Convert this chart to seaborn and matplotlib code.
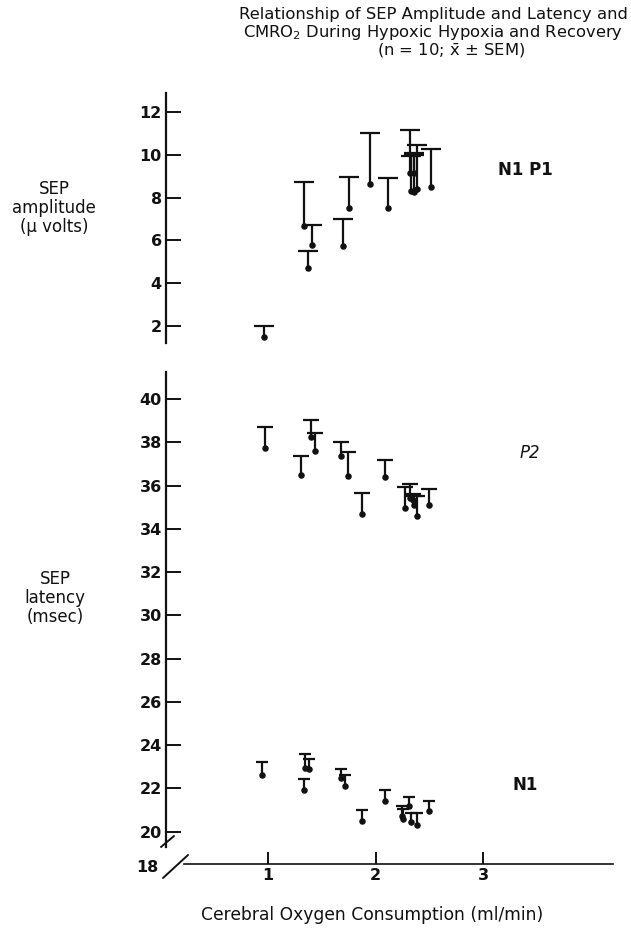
import numpy as np
import pandas as pd
import seaborn as sns
import matplotlib.pyplot as plt

# amplitude N1-P1 (top panel)
amp_x = [0.96, 1.33, 1.37, 1.41, 1.70, 1.75, 1.95, 2.12, 2.32, 2.36, 2.33, 2.36, 2.39, 2.52]
amp_mean = [1.49, 6.67, 4.70, 5.76, 5.74, 7.50, 8.63, 7.49, 9.15, 9.15, 8.32, 8.25, 8.40, 8.49]
amp_upper = [2.00, 8.75, 5.48, 6.74, 6.98, 8.97, 11.04, 8.94, 11.15, 10.00, 9.95, 10.10, 10.46, 10.27]

# latency P2
p2_x = [0.97, 1.31, 1.40, 1.44, 1.68, 1.74, 1.87, 2.09, 2.27, 2.32, 2.35, 2.36, 2.39, 2.50]
p2_mean = [37.72, 36.48, 38.26, 37.60, 37.37, 36.46, 34.69, 36.41, 34.95, 35.41, 35.35, 35.10, 34.60, 35.12]
p2_upper = [38.69, 37.37, 39.03, 38.42, 38.03, 37.57, 35.64, 37.18, 35.95, 36.07, 35.60, 35.52, 35.52, 35.84]

# latency N1
n1_x = [0.94, 1.33, 1.34, 1.38, 1.68, 1.72, 1.87, 2.09, 2.25, 2.26, 2.31, 2.33, 2.39, 2.50]
n1_mean = [22.63, 21.94, 22.94, 22.90, 22.48, 22.12, 20.51, 21.40, 20.71, 20.59, 21.20, 20.43, 20.32, 20.97]
n1_upper = [23.20, 22.45, 23.60, 23.36, 22.91, 22.63, 20.98, 21.91, 21.17, 21.05, 21.60, 20.86, 20.86, 21.40]

amp_ticks = [2, 4, 6, 8, 10, 12]
lat_ticks = [20, 22, 24, 26, 28, 30, 32, 34, 36, 38, 40]
x_ticks = [1, 2, 3]

sns.set_style("ticks")
plt.rcParams['font.family'] = ['DejaVu Sans']
ink = '#111111'

fig = plt.figure(figsize=(6.31, 9.33), dpi=100)
W, H = 631, 933
ax1 = fig.add_axes([166 / W, (H - 343) / H, 447 / W, 250 / H])
ax2 = fig.add_axes([166 / W, (H - 864) / H, 447 / W, 492 / H])


def draw_series(ax, xs, means, uppers, capw):
    df = pd.DataFrame({'x': xs, 'mean': means, 'upper': uppers})
    ax.vlines(df['x'], df['mean'], df['upper'], color=ink, lw=1.6)
    ax.scatter(df['x'], df['upper'], marker='_', s=capw ** 2, color=ink, linewidths=1.6)
    sns.scatterplot(data=df, x='x', y='mean', ax=ax, color=ink, s=22,
                    edgecolor=ink, linewidth=0, legend=False)


draw_series(ax1, amp_x, amp_mean, amp_upper, 14)
draw_series(ax2, p2_x, p2_mean, p2_upper, 12)
draw_series(ax2, n1_x, n1_mean, n1_upper, 8.5)

for ax in (ax1, ax2):
    ax.set_xlim(0.05, 4.21)
    ax.set_xlabel('')
    ax.set_ylabel('')
    ax.spines['top'].set_visible(False)
    ax.spines['right'].set_visible(False)
    ax.spines['left'].set_linewidth(1.6)
    ax.spines['left'].set_color(ink)
    ax.tick_params(axis='y', direction='in', length=11, width=1.4, pad=3,
                   labelsize=11.5, colors=ink)

ax1.set_ylim(1.19, 12.9)
ax1.set_yticks(amp_ticks)
ax1.set_yticklabels([str(t) for t in amp_ticks], fontweight='bold')
ax1.spines['bottom'].set_visible(False)
ax1.set_xticks([])

ax2.set_ylim(18.5, 41.25)
ax2.set_yticks(lat_ticks)
ax2.set_yticklabels([str(t) for t in lat_ticks], fontweight='bold')
ax2.spines['left'].set_bounds(19.3, 41.25)
ax2.spines['bottom'].set_bounds(0.22, 4.21)
ax2.spines['bottom'].set_linewidth(1.2)
ax2.spines['bottom'].set_color(ink)
ax2.set_xticks(x_ticks)
ax2.set_xticklabels([str(t) for t in x_ticks], fontweight='bold')
ax2.tick_params(axis='x', direction='in', length=9, width=1.4, pad=3,
                labelsize=11.5, colors=ink)
ax2.text(-0.02, 18.35, '18', ha='right', va='center', fontsize=11.5,
         fontweight='bold', color=ink, clip_on=False)

# axis break marks
for (xa, ya, xb, yb) in [(161, 847, 174, 836), (163, 878, 188, 855)]:
    fig.add_artist(plt.Line2D([xa / W, xb / W], [(H - ya) / H, (H - yb) / H],
                              color=ink, lw=1.4))

# component labels
ax1.text(3.39, 9.3, 'N1 P1', ha='center', va='center', fontsize=12,
         fontweight='bold', color=ink)
ax2.text(3.44, 37.5, 'P2', ha='center', va='center', fontsize=12,
         style='italic', color=ink)
ax2.text(3.39, 22.17, 'N1', ha='center', va='center', fontsize=12,
         fontweight='bold', color=ink)

# y labels
fig.text(54 / W, (H - 208) / H, 'SEP\namplitude\n(\u00b5 volts)', ha='center',
         va='center', fontsize=12, linespacing=1.1, color=ink)
fig.text(55 / W, (H - 598) / H, 'SEP\nlatency\n(msec)', ha='center',
         va='center', fontsize=12, linespacing=1.1, color=ink)

# title
fig.text(628 / W, (H - 15) / H, 'Relationship of SEP Amplitude and Latency and',
         ha='right', va='center', fontsize=11.8, color=ink)
fig.text(623 / W, (H - 33) / H, 'CMRO$_2$ During Hypoxic Hypoxia and Recovery',
         ha='right', va='center', fontsize=11.8, color=ink)
fig.text(451 / W, (H - 51) / H, '(n = 10; $\\bar{\\mathrm{x}}$ \u00b1 SEM)',
         ha='center', va='center', fontsize=11.8, color=ink)

fig.text(372 / W, (H - 915) / H, 'Cerebral Oxygen Consumption (ml/min)',
         ha='center', va='center', fontsize=12.3, color=ink)

fig.savefig('out.png', dpi=100, facecolor='white')
